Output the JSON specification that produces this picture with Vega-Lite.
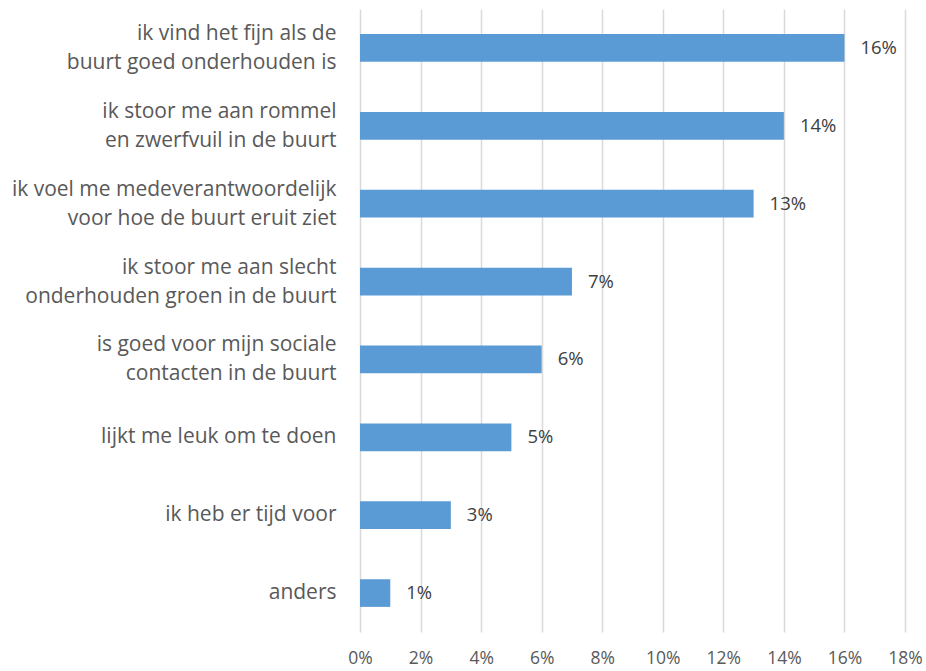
{
  "$schema": "https://vega.github.io/schema/vega-lite/v6.json",
  "autosize": "none",
  "width": 545,
  "height": 623,
  "padding": {"left": 360, "top": 9, "right": 21, "bottom": 39},
  "background": "white",
  "data": {
    "values": [
      {"reden": "ik vind het fijn als de|buurt goed onderhouden is", "pct": 0.16},
      {"reden": "ik stoor me aan rommel|en zwerfvuil in de buurt", "pct": 0.14},
      {"reden": "ik voel me medeverantwoordelijk|voor hoe de buurt eruit ziet", "pct": 0.13},
      {"reden": "ik stoor me aan slecht|onderhouden groen in de buurt", "pct": 0.07},
      {"reden": "is goed voor mijn sociale|contacten in de buurt", "pct": 0.06},
      {"reden": "lijkt me leuk om te doen", "pct": 0.05},
      {"reden": "ik heb er tijd voor", "pct": 0.03},
      {"reden": "anders", "pct": 0.01}
    ]
  },
  "config": {
    "view": {"stroke": null},
    "font": "Open Sans",
    "axis": {"labelFont": "Open Sans", "labelColor": "#595959"}
  },
  "encoding": {
    "y": {
      "field": "reden",
      "type": "nominal",
      "sort": null,
      "scale": {"paddingInner": 0.645, "paddingOuter": 0.3225},
      "axis": {
        "title": null,
        "domain": false,
        "ticks": false,
        "grid": false,
        "labelPadding": 24,
        "labelFontSize": 21,
        "labelLineHeight": 29,
        "labelAlign": "right",
        "labelBaseline": "middle",
        "labelLimit": 400,
        "labelOffset": {"condition": {"test": "indexof(datum.value, '|') >= 0", "value": -14}, "value": 0},
        "labelExpr": "split(datum.value, '|')"
      }
    },
    "x": {
      "field": "pct",
      "type": "quantitative",
      "scale": {"domain": [0, 0.18], "nice": false},
      "axis": {
        "title": null,
        "values": [0, 0.02, 0.04, 0.06, 0.08, 0.1, 0.12, 0.14, 0.16, 0.18],
        "format": ".0%",
        "domain": false,
        "ticks": false,
        "grid": true,
        "gridColor": "#d9d9d9",
        "gridWidth": 1.5,
        "labelFontSize": 17.5,
        "labelPadding": 17,
        "labelFlush": false
      }
    }
  },
  "layer": [
    {"mark": {"type": "bar", "color": "#5B9BD5"}},
    {
      "mark": {"type": "text", "align": "left", "baseline": "middle", "dx": 16, "fontSize": 18.5, "color": "#404040", "font": "Open Sans"},
      "encoding": {"text": {"field": "pct", "type": "quantitative", "format": ".0%"}}
    }
  ]
}
